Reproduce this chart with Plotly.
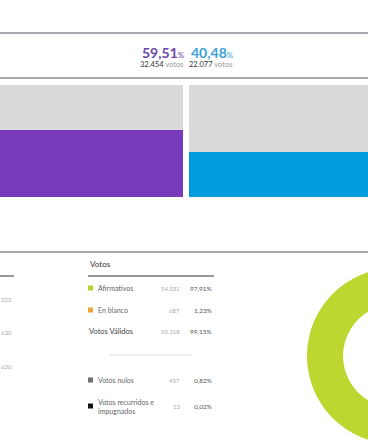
import plotly.graph_objects as go

# ---- data ----
options = ["Afirmativo", "Negativo"]
option_pct = [59.51, 40.48]
option_pct_text = ["59,51", "40,48"]
option_votes_text = ["32.454", "22.077"]
option_colors = ["#773bb9", "#009cdc"]
option_text_colors = ["#6a46a8", "#3a9fd6"]

table_labels = ["Afirmativos", "En blanco", "Votos Válidos", "Votos nulos", "Votos recurridos e<br>impugnados"]
table_votes = ["54.531", "687", "55.218", "457", "13"]
table_pct = ["97,91%", "1,23%", "99,15%", "0,82%", "0,02%"]
table_colors = ["#b8d431", "#f0a33a", None, "#6f6f6f", "#111111"]

donut_labels = ["Afirmativos", "En blanco", "Votos nulos", "Votos recurridos e impugnados"]
donut_values = [54531, 687, 457, 13]
donut_colors = ["#bdd630", "#f0a33a", "#6f6f6f", "#111111"]

left_values = ["225", "630", "630"]

W, H = 500, 445
FONT = "Lato"


def px(x):
    return x / W


def py(y):
    return 1 - y / H


fig = go.Figure()

# bars: value + remainder up to 100
fig.add_trace(go.Bar(x=[0, 1], y=option_pct, marker=dict(color=option_colors, line=dict(width=0)),
                     width=0.97, hoverinfo="skip", showlegend=False))
fig.add_trace(go.Bar(x=[0, 1], y=[100 - v for v in option_pct],
                     marker=dict(color="#d9d8da", line=dict(width=0)),
                     width=0.97, hoverinfo="skip", showlegend=False))

# donut
fig.add_trace(go.Pie(labels=donut_labels, values=donut_values, hole=0.59, sort=False,
                     direction="clockwise", rotation=0,
                     marker=dict(colors=donut_colors, line=dict(width=0)),
                     textinfo="none", showlegend=False,
                     domain=dict(x=[px(395 - 88), px(395 + 88)], y=[py(444), py(268)])))

ann = []
# header percentages
centers = [163.5, 212.5]
vcenters = [161.5, 210.5]
for i in range(2):
    ann.append(dict(x=px(centers[i]), y=py(52), xref="paper", yref="paper",
                    text=f"<b>{option_pct_text[i]}</b><span style='font-size:8px'>%</span>",
                    showarrow=False, xanchor="center", yanchor="middle",
                    font=dict(family=FONT, size=14, color=option_text_colors[i])))
    ann.append(dict(x=px(vcenters[i]), y=py(64.5), xref="paper", yref="paper",
                    text=f"<span style='color:#333'>{option_votes_text[i]}</span> votos",
                    showarrow=False, xanchor="center", yanchor="middle",
                    font=dict(family=FONT, size=7.5, color="#999")))

# left column numbers
for v, yy in zip(left_values, [299, 332, 366]):
    ann.append(dict(x=px(14), y=py(yy), xref="paper", yref="paper", text=v, showarrow=False,
                    xanchor="right", yanchor="middle", font=dict(family=FONT, size=6, color="#aaa")))

# table header
ann.append(dict(x=px(88), y=py(264), xref="paper", yref="paper", text="Votos", showarrow=False,
                xanchor="left", yanchor="middle", font=dict(family=FONT, size=8, color="#333")))

row_y = [288, 310, 331, 380, 406]
shapes = []
for lab, vv, pc, col, yy in zip(table_labels, table_votes, table_pct, table_colors, row_y):
    if col is None:
        ann.append(dict(x=px(87), y=py(yy), xref="paper", yref="paper", text=lab, showarrow=False,
                        xanchor="left", yanchor="middle", font=dict(family=FONT, size=7.5, color="#444")))
    else:
        shapes.append(dict(type="rect", xref="paper", yref="paper", x0=px(88), x1=px(93),
                           y0=py(yy + 2.5), y1=py(yy - 2.5), fillcolor=col, line=dict(width=0)))
        ann.append(dict(x=px(96), y=py(yy), xref="paper", yref="paper", text=lab, showarrow=False,
                        xanchor="left", yanchor="middle", align="left",
                        font=dict(family=FONT, size=7, color="#666")))
    ann.append(dict(x=px(182), y=py(yy), xref="paper", yref="paper", text=vv, showarrow=False,
                    xanchor="right", yanchor="middle", font=dict(family=FONT, size=6, color="#aaa")))
    ann.append(dict(x=px(214), y=py(yy), xref="paper", yref="paper", text=pc, showarrow=False,
                    xanchor="right", yanchor="middle", font=dict(family=FONT, size=6.5, color="#555")))

# lines
for yy in [33, 78, 252]:
    shapes.append(dict(type="line", xref="paper", yref="paper", x0=0, x1=px(368), y0=py(yy), y1=py(yy),
                       line=dict(color="#8a8f96", width=1.3)))
shapes.append(dict(type="line", xref="paper", yref="paper", x0=0, x1=px(14), y0=py(276), y1=py(276),
                   line=dict(color="#333", width=1)))
shapes.append(dict(type="line", xref="paper", yref="paper", x0=px(88), x1=px(214), y0=py(276), y1=py(276),
                   line=dict(color="#333", width=1)))
shapes.append(dict(type="line", xref="paper", yref="paper", x0=px(109), x1=px(192), y0=py(355), y1=py(355),
                   line=dict(color="#ddd", width=1)))

fig.update_layout(
    width=W, height=H, margin=dict(l=0, r=0, t=0, b=0),
    paper_bgcolor="white", plot_bgcolor="white", barmode="stack",
    xaxis=dict(range=[-0.43, -0.43 + W / 200], visible=False, domain=[0, 1], fixedrange=True),
    yaxis=dict(range=[0, 100], visible=False, domain=[py(197), py(85)], fixedrange=True),
    annotations=ann, shapes=shapes, font=dict(family=FONT),
)

fig.write_html("out.html", config={"displayModeBar": False},
               post_script="document.body.style.margin='0';document.body.style.overflow='hidden';")
